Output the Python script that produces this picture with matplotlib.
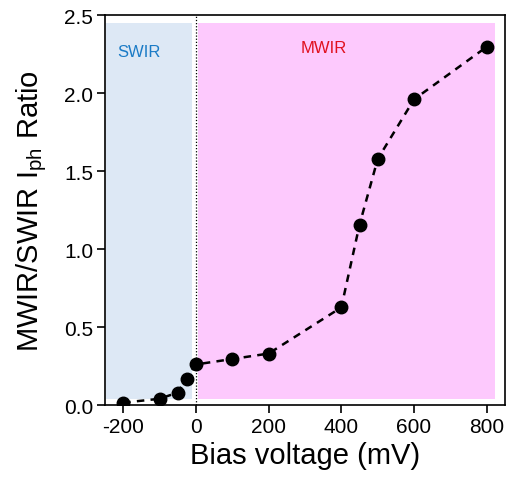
import matplotlib
matplotlib.use("Agg")
import matplotlib.pyplot as plt
from matplotlib.patches import Rectangle

bias = [-200, -100, -50, -25, 0, 100, 200, 400, 450, 500, 600, 800]
ratio = [0.015, 0.04, 0.08, 0.17, 0.26, 0.295, 0.33, 0.626, 1.156, 1.577, 1.96, 2.297]
xticks = [-200, 0, 200, 400, 600, 800]
yticks = [0.0, 0.5, 1.0, 1.5, 2.0, 2.5]

plt.rcParams['font.family'] = ['Liberation Sans', 'DejaVu Sans']

fig = plt.figure(figsize=(5.08, 4.89), dpi=100)
ax = fig.add_axes([0.2067, 0.1697, 0.7873, 0.7973])

ax.add_patch(Rectangle((-247, 0.04), 237, 2.41, facecolor='#dde8f5', edgecolor='none', zorder=0))
ax.add_patch(Rectangle((6, 0.04), 816, 2.41, facecolor='#fdc9fd', edgecolor='none', zorder=0))
ax.axvline(0, color='black', linestyle=(0, (1, 1.5)), linewidth=0.9, zorder=1)

ax.plot(bias, ratio, linestyle=(0, (3, 2.5)), color='black', linewidth=1.8,
        marker='o', markersize=9, zorder=3)

ax.text(-216, 2.27, 'SWIR', color='#1b7bc6', fontsize=12, ha='left', va='center')
ax.text(353, 2.29, 'MWIR', color='#e0101e', fontsize=12, ha='center', va='center')

ax.set_xlim(-250, 850)
ax.set_ylim(0, 2.5)
ax.set_xticks(xticks)
ax.set_xticklabels([str(t) for t in xticks])
ax.set_yticks(yticks)
ax.set_yticklabels([f'{t:.1f}' for t in yticks])
ax.tick_params(direction='out', length=5.5, width=1.2, labelsize=15, pad=3)
for s in ax.spines.values():
    s.set_linewidth(1.2)

ax.set_xlabel('Bias voltage (mV)', fontsize=21, labelpad=4)
ax.set_ylabel('MWIR/SWIR I$_{\\mathregular{ph}}$ Ratio', fontsize=21, labelpad=11)

fig.savefig('out.png', dpi=100)
